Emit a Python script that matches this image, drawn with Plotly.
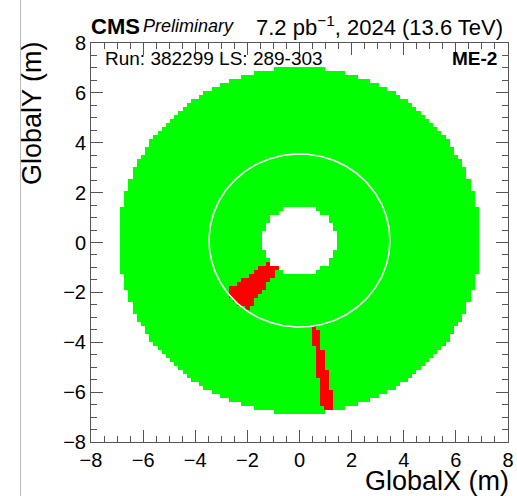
import numpy as np
import plotly.graph_objects as go

# ---- axis / binning ----
axis_range = [-8, 8]
bin_size = 0.16
tick_vals = [-8, -6, -4, -2, 0, 2, 4, 6, 8]

# ---- ME-2 station geometry (metres, degrees) ----
ring_names = ["ME-2/1", "ME-2/2"]
ring_r_min = [1.42, 3.50]
ring_r_max = [3.44, 6.95]
center_y = 0.08

# ---- regions with no / low occupancy (drawn red) ----
dead_ring = ["ME-2/1", "ME-2/2"]
dead_phi_min = [216.0, 277.5]
dead_phi_max = [235.0, 281.2]

# ---- text ----
header_left = "CMS"
header_prelim = "Preliminary"
header_right = "7.2 pb<sup>−1</sup>, 2024 (13.6 TeV)"
run_label = "Run: 382299 LS: 289-303"
station_label = "ME-2"
x_title = "GlobalX (m)"
y_title = "GlobalY (m)"

FONT = "Liberation Sans, Arial, Helvetica, sans-serif"
GREEN = "#00ff00"
RED = "#ff0000"

W, H = 517, 496
L, Rm, T, B = 91, 9, 43, 54
pw, ph = W - L - Rm, H - T - B

# ---- occupancy map on the histogram grid ----
centers = np.arange(axis_range[0] + bin_size / 2, axis_range[1], bin_size)
X, Y = np.meshgrid(centers, centers)
R = np.hypot(X, Y - center_y)
PHI = np.degrees(np.arctan2(Y - center_y, X)) % 360
gap_mid = (ring_r_max[0] + ring_r_min[1]) / 2
occupied = (R >= ring_r_min[0]) & (R <= ring_r_max[1])
dead = np.zeros(X.shape, dtype=bool)
for ring, p0, p1 in zip(dead_ring, dead_phi_min, dead_phi_max):
    i = ring_names.index(ring)
    rlo = ring_r_min[i] if i == 0 else gap_mid
    rhi = gap_mid if i == 0 else ring_r_max[i]
    dead |= (R >= rlo) & (R <= rhi) & (PHI >= p0) & (PHI <= p1)
dead &= occupied


def runs(mask):
    """Contiguous vertical runs of cells, per histogram column."""
    xs, bases, heights = [], [], []
    for j, xc in enumerate(centers):
        col = mask[:, j]
        i = 0
        n = len(col)
        while i < n:
            if col[i]:
                k = i
                while k < n and col[k]:
                    k += 1
                xs.append(xc)
                bases.append(centers[i] - bin_size / 2)
                heights.append((k - i) * bin_size)
                i = k
            else:
                i += 1
    return xs, bases, heights


fig = go.Figure()
for mask, col in [(occupied, GREEN), (dead, RED)]:
    xs, bases, heights = runs(mask)
    fig.add_trace(go.Bar(
        x=xs, y=heights, base=bases, width=bin_size * 1.05,
        marker=dict(color=col, line=dict(width=0)),
        hoverinfo="skip", showlegend=False))

# thin empty gap between the two rings
phi = np.radians(np.arange(0, 361, 1.0))
fig.add_trace(go.Scatter(
    x=gap_mid * np.cos(phi), y=center_y + gap_mid * np.sin(phi), mode="lines",
    line=dict(color="white", width=1.6), hoverinfo="skip", showlegend=False))

axis_common = dict(
    range=axis_range, tickvals=tick_vals, ticks="inside", ticklen=12,
    tickwidth=1, tickcolor="#555555", showline=True, linecolor="#555555",
    linewidth=1, mirror="allticks", showgrid=False, zeroline=False,
    automargin=False, fixedrange=True,
    tickfont=dict(family=FONT, size=20, color="black"),
    minor=dict(dtick=0.5, ticks="inside", ticklen=6, tickcolor="#555555",
               tickwidth=1, showgrid=False),
)
fig.update_xaxes(**axis_common)
fig.update_yaxes(**axis_common)


def px(x):
    return (x - L) / pw


def py(y):
    return (H - B - y) / ph


ann = [
    dict(text="<b>" + header_left + "</b>", x=px(89), y=py(26), xanchor="left",
         yanchor="middle", font=dict(size=22)),
    dict(text="<i>" + header_prelim + "</i>", x=px(141), y=py(26), xanchor="left",
         yanchor="middle", font=dict(size=18)),
    dict(text=header_right, x=px(505), y=py(26), xanchor="right",
         yanchor="middle", font=dict(size=22)),
    dict(text=run_label, x=px(103), y=py(58), xanchor="left",
         yanchor="middle", font=dict(size=19)),
    dict(text="<b>" + station_label + "</b>", x=px(499), y=py(58), xanchor="right",
         yanchor="middle", font=dict(size=19)),
    dict(text=x_title, x=px(511), y=py(481), xanchor="right",
         yanchor="middle", font=dict(size=27)),
    dict(text=y_title, x=px(32), y=py(113), xanchor="center",
         yanchor="middle", textangle=-90, font=dict(size=27)),
]
for a in ann:
    a.update(xref="paper", yref="paper", showarrow=False)
    a["font"].update(family=FONT, color="black")

fig.update_layout(
    width=W, height=H, margin=dict(l=L, r=Rm, t=T, b=B, pad=0),
    plot_bgcolor="white", paper_bgcolor="white", barmode="overlay", bargap=0,
    dragmode=False, hovermode=False,
    annotations=ann,
    shapes=[dict(type="line", xref="paper", yref="paper", x0=px(20.5), x1=px(20.5),
                 y0=py(H), y1=py(0), line=dict(color="#bbbbbb", width=1))],
)

fig.write_html("out.html", config={"staticPlot": True, "displayModeBar": False})
